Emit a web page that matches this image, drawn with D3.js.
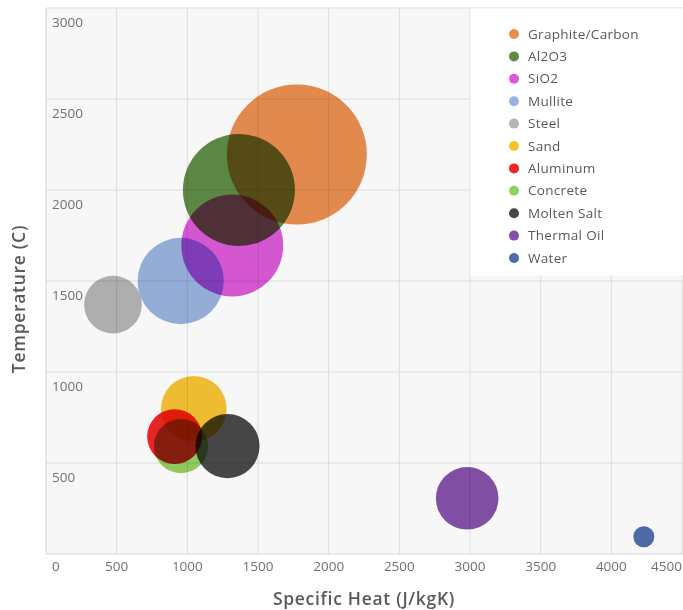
<!DOCTYPE html>
<html>
<head>
<meta charset="utf-8">
<script src="https://cdn.jsdelivr.net/npm/d3@7"></script>
<style>
  html, body { margin: 0; padding: 0; background: #ffffff; }
  svg { display: block; }
  text { font-family: "Open Sans", Lato, sans-serif; }
</style>
</head>
<body>
<svg id="chart" width="683" height="610"></svg>
<script>
// ---- data ----
const materials    = ["Graphite/Carbon", "Al2O3", "SiO2", "Mullite", "Steel", "Sand", "Aluminum", "Concrete", "Molten Salt", "Thermal Oil", "Water"];
const specificHeat = [1775, 1365, 1318, 953, 474, 1046, 910, 955, 1284, 2980, 4230];
const temperature  = [2195, 2000, 1695, 1500, 1370, 798, 645, 593, 593, 306, 95];
const bubbleSize   = [100, 64, 53, 38, 17, 22, 15.4, 15, 21, 20, 2.25];
const colors = ["#EA8E50", "#5F8A45", "#DB5AD8", "#98B3DE", "#B4B4B4", "#F6C232", "#F02525", "#92D060", "#484848", "#8450A8", "#4E6DA8"];
const xTicks = [0, 500, 1000, 1500, 2000, 2500, 3000, 3500, 4000, 4500];
const yTicks = [500, 1000, 1500, 2000, 2500, 3000];
const xTitle = "Specific Heat (J/kgK)";
const yTitle = "Temperature (C)";

const svg = d3.select("#chart");
const pLeft = 46, pRight = 682, pTop = 8, pBottom = 554;

const x = d3.scaleLinear().domain([0, 4500]).range([pLeft, pRight]);
const y = d3.scaleLinear().domain([0, 3000]).range([pBottom, pTop]);
const r = d3.scaleSqrt().domain([0, 100]).range([0, 70]);

// plot background
svg.append("rect").attr("x", pLeft).attr("y", pTop)
  .attr("width", 683 - pLeft).attr("height", pBottom - pTop)
  .attr("fill", "#f7f7f7");

// grid
const grid = svg.append("g");
grid.selectAll("line.v").data(xTicks.slice(1)).join("line")
  .attr("x1", d => x(d)).attr("x2", d => x(d))
  .attr("y1", pTop).attr("y2", pBottom)
  .attr("stroke", "#dcdcdc").attr("stroke-width", 1);
grid.selectAll("line.h").data(yTicks).join("line")
  .attr("x1", pLeft).attr("x2", 683)
  .attr("y1", d => y(d)).attr("y2", d => y(d))
  .attr("stroke", "#dcdcdc").attr("stroke-width", 1);
// borders
svg.append("line").attr("x1", pLeft).attr("x2", pLeft).attr("y1", pTop).attr("y2", pBottom)
  .attr("stroke", "#d4d4d4");
svg.append("line").attr("x1", pLeft).attr("x2", 683).attr("y1", pBottom).attr("y2", pBottom)
  .attr("stroke", "#d4d4d4");

// legend box (covers grid)
svg.append("rect").attr("x", x(3000) + 0.5).attr("y", pTop + 0.5)
  .attr("width", 683 - x(3000)).attr("height", 267)
  .attr("fill", "#ffffff");

// bubbles
const data = materials.map((m, i) => ({ name: m, sx: specificHeat[i], t: temperature[i], s: bubbleSize[i], c: colors[i] }));
svg.append("g").selectAll("circle").data(data).join("circle")
  .attr("cx", d => x(d.sx)).attr("cy", d => y(d.t)).attr("r", d => r(d.s))
  .attr("fill", d => d.c)
  .style("mix-blend-mode", "multiply");

// y tick labels (inside plot, below gridline)
svg.append("g").selectAll("text").data(yTicks).join("text")
  .attr("x", 52).attr("y", d => y(d) + 19)
  .attr("fill", "#707070").attr("font-size", 13.5)
  .text(d => d);

// x tick labels
svg.append("g").selectAll("text").data(xTicks).join("text")
  .attr("x", (d, i) => i === 0 ? x(d) + 6 : (i === xTicks.length - 1 ? pRight : x(d)))
  .attr("y", 571)
  .attr("text-anchor", (d, i) => i === 0 ? "start" : (i === xTicks.length - 1 ? "end" : "middle"))
  .attr("fill", "#707070").attr("font-size", 13.5)
  .text(d => d);

// axis titles
svg.append("text").attr("x", (pLeft + pRight) / 2).attr("y", 605)
  .attr("text-anchor", "middle").attr("fill", "#595959")
  .attr("font-size", 17.5).attr("font-weight", 600).attr("letter-spacing", 0.7).text(xTitle);
svg.append("text").attr("transform", "translate(25, 299) rotate(-90)")
  .attr("text-anchor", "middle").attr("fill", "#595959")
  .attr("font-size", 17.5).attr("font-weight", 600).attr("letter-spacing", 0.7).text(yTitle);

// legend
const lg = svg.append("g").selectAll("g").data(data).join("g")
  .attr("transform", (d, i) => `translate(514, ${34 + i * 22.4})`);
lg.append("circle").attr("r", 5).attr("fill", d => d.c);
lg.append("text").attr("x", 14).attr("y", 4.5)
  .attr("fill", "#595959").attr("font-size", 13.5).attr("letter-spacing", 0.3).text(d => d.name);
</script>
</body>
</html>
